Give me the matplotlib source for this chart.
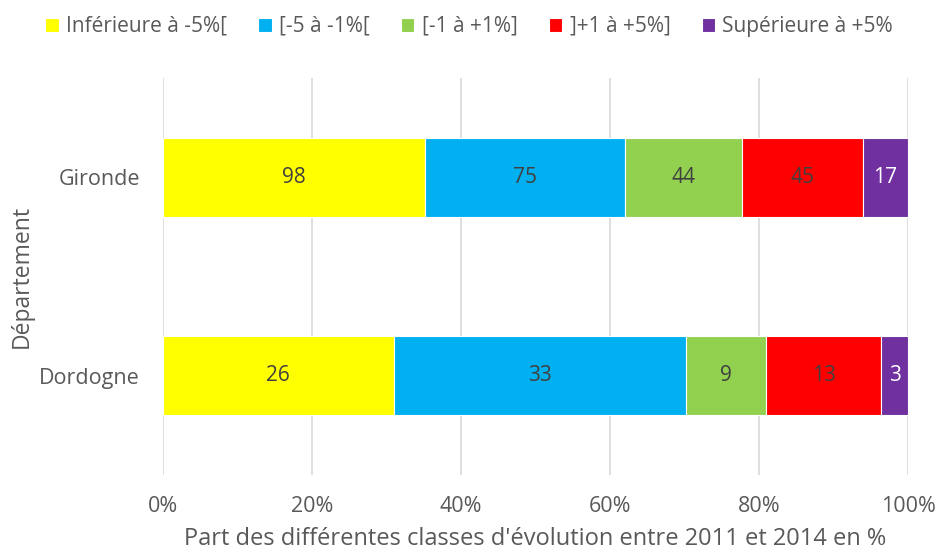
import matplotlib.pyplot as plt
import numpy as np

plt.rcParams['font.family'] = ['Open Sans', 'DejaVu Sans']

departements = ['Dordogne', 'Gironde']
classes = ['Inférieure à -5%[', '[-5 à -1%[', '[-1 à +1%]', ']+1 à +5%]', 'Supérieure à +5%']
couleurs = ['#FFFF00', '#00B0F0', '#92D050', '#FF0000', '#7030A0']
dordogne = [26, 33, 9, 13, 3]
gironde = [98, 75, 44, 45, 17]

counts = np.array([dordogne, gironde], dtype=float)
parts = counts / counts.sum(axis=1, keepdims=True) * 100

fig = plt.figure(figsize=(9.38, 5.56), dpi=100)
ax = fig.add_axes([163 / 938, 1 - 475 / 556, 745 / 938, 397 / 556])

y = np.arange(len(departements))
left = np.zeros(len(departements))
for i, (nom, col) in enumerate(zip(classes, couleurs)):
    ax.barh(y, parts[:, i], left=left, height=0.4, color=col,
            edgecolor='white', linewidth=0.8, label=nom, zorder=3)
    txt_col = 'white' if i == 4 else '#404040'
    for j in range(len(departements)):
        ax.text(left[j] + parts[j, i] / 2, y[j], str(int(counts[j, i])),
                ha='center', va='center', fontsize=15, color=txt_col, zorder=4)
    left += parts[:, i]

ax.set_xlim(0, 100)
ax.set_ylim(-0.5, 1.5)
ax.set_xticks(np.arange(0, 101, 20))
ax.set_xticklabels([f'{v}%' for v in range(0, 101, 20)])
ax.set_yticks(y)
ax.set_yticklabels(departements)
ax.tick_params(axis='both', length=0, labelsize=15.5, labelcolor='#595959')
ax.tick_params(axis='x', pad=15)
ax.tick_params(axis='y', pad=16.5)
ax.grid(axis='x', color='#D9D9D9', linewidth=1.2, zorder=0)
for s in ax.spines.values():
    s.set_visible(False)

ax.set_xlabel("Part des différentes classes d'évolution entre 2011 et 2014 en %",
              fontsize=17, color='#595959', labelpad=7)
ax.set_ylabel('Département', fontsize=16.5, color='#595959', labelpad=4)

fig.legend(loc='upper center', bbox_to_anchor=(0.5, 1.005), ncol=5, frameon=False,
           fontsize=15, labelcolor='#595959', handlelength=0.65, handleheight=0.65,
           handletextpad=0.35, columnspacing=1.5)

fig.savefig('out.png', dpi=100)
